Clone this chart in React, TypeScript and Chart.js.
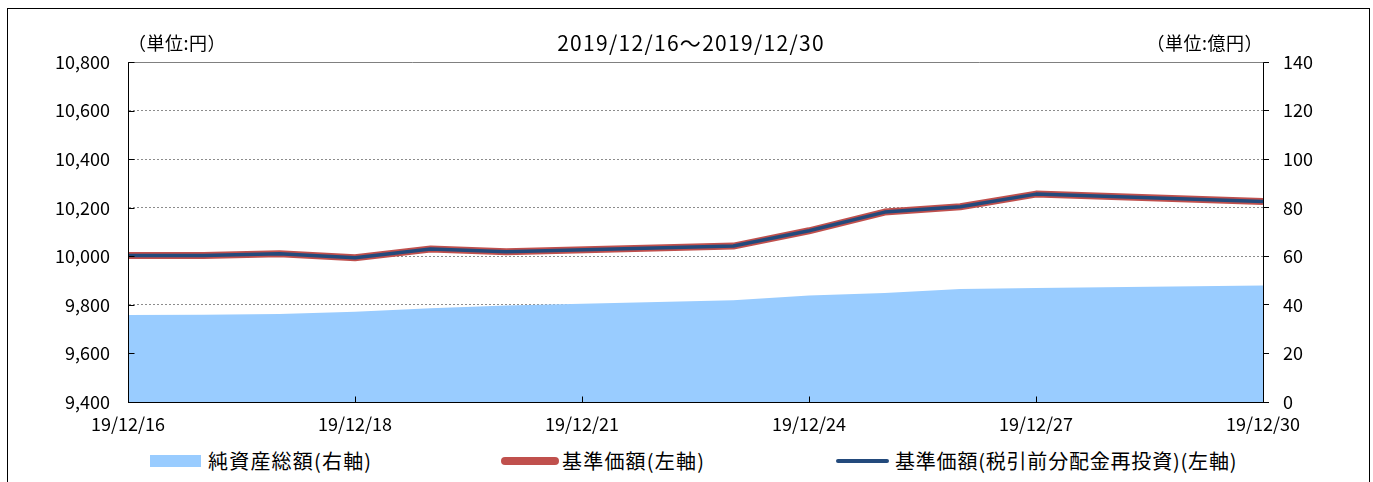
import React, { useEffect, useRef } from "react";
import { Chart, registerables } from "chart.js";

Chart.register(...registerables);

// ---- data ----
const dayOffsets = [0, 1, 2, 3, 4, 5, 8, 9, 10, 11, 12, 15];
const tickPositions = [0, 3, 6, 9, 12, 15];
const tickLabels = ["19/12/16", "19/12/18", "19/12/21", "19/12/24", "19/12/27", "19/12/30"];
const navValues = [10003, 10003, 10010, 9994, 10030, 10019, 10042, 10105, 10182, 10204, 10256, 10226];
const navReinvested = [10003, 10003, 10010, 9994, 10030, 10019, 10042, 10105, 10182, 10204, 10256, 10226];
const netAssets = [35.8, 35.9, 36.2, 37.2, 38.6, 39.7, 41.9, 43.9, 44.9, 46.5, 46.9, 48.0];

const seriesNames = ["純資産総額(右軸)", "基準価額(左軸)", "基準価額(税引前分配金再投資)(左軸)"];
const titleText = "2019/12/16～2019/12/30";
const leftUnit = "（単位:円）";
const rightUnit = "（単位:億円）";

const AREA_COLOR = "#99ccff";
const RED = "#c0504d";
const BLUE = "#234a7c";
const FONT = "'Noto Sans CJK JP', 'Noto Sans', sans-serif";

const W = 1361;
const H = 430;

const framePlugin = {
  id: "frame",
  afterDatasetsDraw(chart: any) {
    const { ctx, chartArea, scales } = chart;
    const { left, right, top, bottom } = chartArea;
    const L = Math.round(left) + 0.5;
    const R = Math.round(right) + 0.5;
    const T = Math.round(top) + 0.5;
    const B = Math.round(bottom) + 0.5;
    ctx.save();
    ctx.lineWidth = 1;
    ctx.strokeStyle = "#808080";
    ctx.beginPath();
    ctx.moveTo(L, T);
    ctx.lineTo(R, T);
    ctx.stroke();
    ctx.strokeStyle = "#000";
    ctx.beginPath();
    ctx.moveTo(L, T);
    ctx.lineTo(L, B);
    ctx.lineTo(R, B);
    ctx.moveTo(R, T);
    ctx.lineTo(R, B);
    const y = scales.y;
    y.ticks.forEach((t: any) => {
      const py = Math.round(y.getPixelForValue(t.value)) + 0.5;
      ctx.moveTo(L, py);
      ctx.lineTo(L + 6, py);
    });
    const x = scales.x;
    x.ticks.forEach((t: any, i: number) => {
      if (i === 0 || i === x.ticks.length - 1) return;
      const px = Math.round(x.getPixelForValue(t.value)) + 0.5;
      ctx.moveTo(px, B);
      ctx.lineTo(px, B - 6);
    });
    ctx.stroke();
    ctx.restore();
  },
};

export default function App() {
  const canvasRef = useRef<HTMLCanvasElement | null>(null);

  useEffect(() => {
    const canvas = canvasRef.current;
    if (!canvas) return;
    const toPoints = (vals: number[]) => vals.map((v, i) => ({ x: dayOffsets[i], y: v }));
    const tickFont = { family: FONT, size: 18 };
    const chart = new Chart(canvas, {
      type: "line",
      data: {
        datasets: [
          {
            label: seriesNames[0],
            data: toPoints(netAssets),
            yAxisID: "y2",
            backgroundColor: AREA_COLOR,
            borderWidth: 0,
            borderColor: AREA_COLOR,
            fill: "origin",
            pointRadius: 0,
            order: 3,
          },
          {
            label: seriesNames[1],
            data: toPoints(navValues),
            yAxisID: "y",
            borderColor: RED,
            borderWidth: 7,
            borderJoinStyle: "round",
            borderCapStyle: "butt",
            fill: false,
            pointRadius: 0,
            order: 2,
          },
          {
            label: seriesNames[2],
            data: toPoints(navReinvested),
            yAxisID: "y",
            borderColor: BLUE,
            borderWidth: 3.5,
            borderJoinStyle: "round",
            fill: false,
            pointRadius: 0,
            order: 1,
          },
        ],
      },
      options: {
        responsive: false,
        animation: false,
        devicePixelRatio: 1,
        layout: { padding: { top: 53, left: 0, right: 0, bottom: 0 } },
        plugins: {
          legend: { display: false },
          tooltip: { enabled: false },
          title: { display: false },
        },
        scales: {
          x: {
            type: "linear",
            min: 0,
            max: 15,
            afterBuildTicks: (scale: any) => {
              scale.ticks = tickPositions.map((v) => ({ value: v }));
            },
            afterFit: (scale: any) => {
              scale.height = H - 393;
            },
            ticks: {
              autoSkip: false,
              maxRotation: 0,
              padding: 11,
              color: "#000",
              font: tickFont,
              callback: (v: any) => {
                const i = tickPositions.indexOf(Number(v));
                return i >= 0 ? tickLabels[i] : "";
              },
            },
            grid: { display: false, drawTicks: false, drawOnChartArea: false },
            border: { display: true, color: "#000", width: 1 },
          },
          y: {
            type: "linear",
            position: "left",
            min: 9400,
            max: 10800,
            afterFit: (scale: any) => {
              scale.width = 120;
            },
            ticks: {
              stepSize: 200,
              padding: 18,
              color: "#000",
              font: tickFont,
              callback: (v: any) => Number(v).toLocaleString("en-US"),
            },
            grid: {
              drawTicks: false,
              lineWidth: 1,
              color: (c: any) =>
                c.tick && (c.tick.value === 10800 || c.tick.value === 9400) ? "rgba(0,0,0,0)" : "#8c8c8c",
            },
            border: { display: true, color: "#000", width: 1, dash: [2, 2] },
          },
          y2: {
            type: "linear",
            position: "right",
            min: 0,
            max: 140,
            afterFit: (scale: any) => {
              scale.width = W - 1255;
            },
            ticks: {
              stepSize: 20,
              padding: 14,
              color: "#000",
              font: tickFont,
            },
            grid: {
              drawOnChartArea: false,
              drawTicks: true,
              tickLength: 6,
              tickColor: "#000",
              color: "#000",
            },
            border: { display: true, color: "#000", width: 1 },
          },
        },
      },
      plugins: [framePlugin],
    } as any);
    return () => chart.destroy();
  }, []);

  const textBase: React.CSSProperties = {
    position: "absolute",
    fontFamily: FONT,
    color: "#000",
    whiteSpace: "nowrap",
    lineHeight: "24px",
    height: 24,
  };

  return (
    <div
      style={{
        position: "absolute",
        left: 7,
        top: 8,
        width: W,
        height: 480,
        border: "1px solid #000",
        background: "#fff",
      }}
    >
      <canvas
        ref={canvasRef}
        width={W}
        height={H}
        style={{ position: "absolute", left: 0, top: 0, width: W, height: H }}
      />
      <div style={{ ...textBase, top: 21, left: 683, transform: "translateX(-50%)", fontSize: 21, letterSpacing: 1.3 }}>
        {titleText}
      </div>
      <div style={{ ...textBase, top: 21, left: 120, fontSize: 18, letterSpacing: 0.5 }}>{leftUnit}</div>
      <div style={{ ...textBase, top: 21, right: W - 1255, fontSize: 18, letterSpacing: 0.5, textAlign: "right" }}>
        {rightUnit}
      </div>

      <div style={{ position: "absolute", left: 142, top: 446, width: 51, height: 12, background: AREA_COLOR }} />
      <div style={{ ...textBase, top: 440, left: 200, fontSize: 20, letterSpacing: 1.2 }}>{seriesNames[0]}</div>

      <div style={{ position: "absolute", left: 493, top: 448, width: 58, height: 8, borderRadius: 4, background: RED }} />
      <div style={{ ...textBase, top: 440, left: 554, fontSize: 20, letterSpacing: 1.2 }}>{seriesNames[1]}</div>

      <div style={{ position: "absolute", left: 828, top: 450, width: 53, height: 4, borderRadius: 2, background: BLUE }} />
      <div style={{ ...textBase, top: 440, left: 887, fontSize: 20, letterSpacing: 0.8 }}>{seriesNames[2]}</div>
    </div>
  );
}
